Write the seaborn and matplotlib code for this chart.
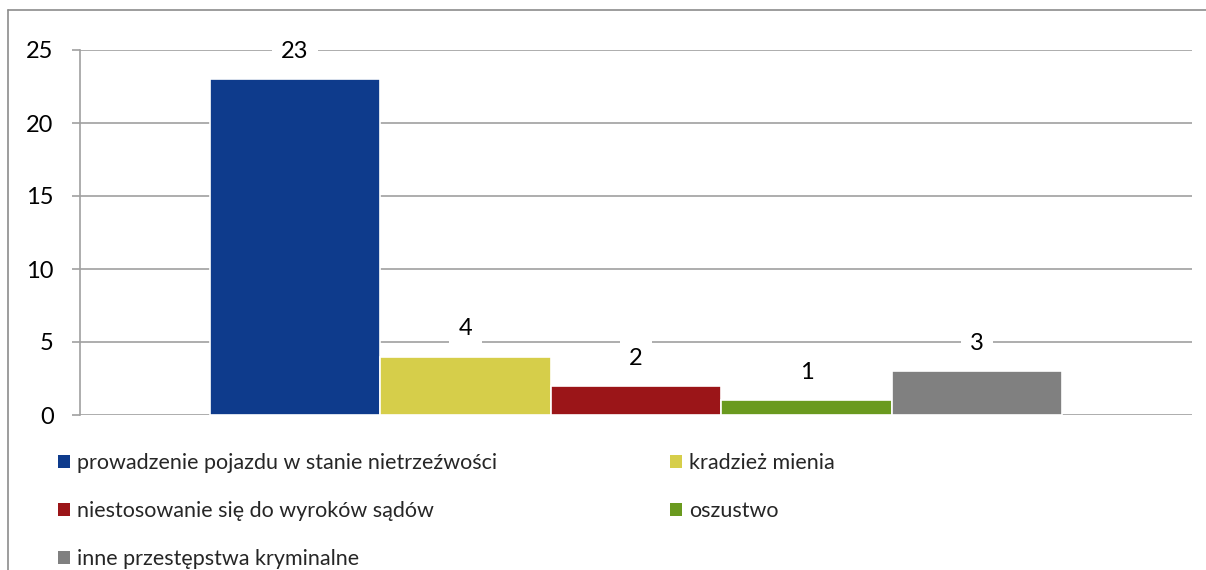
import matplotlib
matplotlib.use("Agg")
import matplotlib.pyplot as plt
import seaborn as sns
import pandas as pd
from matplotlib.patches import Patch
from matplotlib.lines import Line2D

categories = [
    "prowadzenie pojazdu w stanie nietrzeźwości",
    "kradzież mienia",
    "niestosowanie się do wyroków sądów",
    "oszustwo",
    "inne przestępstwa kryminalne",
]
values = [23, 4, 2, 1, 3]
colors = ["#0E3B8C", "#D6CE4A", "#9B1518", "#6A9A1F", "#808080"]
yticks = [0, 5, 10, 15, 20, 25]

sns.set_style("white")
plt.rcParams["font.family"] = ["Lato", "DejaVu Sans"]

df = pd.DataFrame({"cat": categories, "val": values})

fig = plt.figure(figsize=(12.06, 5.70), dpi=100)
ax = fig.add_axes([80 / 1206, 1 - 415 / 570, (1192 - 80) / 1206, (415 - 50) / 570])

sns.barplot(data=df, x="cat", y="val", hue="cat", palette=colors, width=1.0,
            saturation=1, dodge=False, edgecolor="white", linewidth=1.2,
            legend=False, ax=ax, zorder=3)

ax.set_ylim(0, 25)
ax.set_yticks(yticks)
ax.set_yticklabels([str(t) for t in yticks], fontsize=17)
ax.set_xlim(-1.26, 5.26)
ax.set_xticks([])
ax.set_xlabel("")
ax.set_ylabel("")
ax.yaxis.grid(True, color="#A0A0A0", linewidth=1.2, zorder=0)
ax.set_axisbelow(True)
for s in ["top", "right", "bottom"]:
    ax.spines[s].set_visible(False)
ax.spines["left"].set_color("#A0A0A0")
ax.spines["left"].set_linewidth(1.2)
ax.tick_params(axis="y", which="both", left=True, length=6, width=1.2,
               color="#A0A0A0", pad=13, labelcolor="black")

for i, v in enumerate(values):
    ax.annotate(str(v), xy=(i, v), xytext=(0, 20), textcoords="offset points",
                ha="center", va="center", fontsize=17, color="black",
                bbox=dict(boxstyle="square,pad=0.4", facecolor="white",
                          edgecolor="none"), zorder=5)

order = [0, 2, 4, 1, 3]
handles = [Patch(facecolor=colors[i], edgecolor="none") for i in order]
labels = [categories[i] for i in order]
leg = fig.legend(handles, labels, ncol=2, loc="upper left",
                 bbox_to_anchor=(58 / 1206, 1 - 453 / 570),
                 frameon=False, fontsize=15.5, handlelength=0.56,
                 handleheight=0.56, handletextpad=0.33, labelspacing=1.3,
                 columnspacing=8.0, borderpad=0, borderaxespad=0)

# figure border (top and left visible)
fig.add_artist(Line2D([8 / 1206, 1.0], [1 - 10 / 570, 1 - 10 / 570],
                      transform=fig.transFigure, color="#8C8C8C", linewidth=1.2))
fig.add_artist(Line2D([8 / 1206, 8 / 1206], [0.0, 1 - 10 / 570],
                      transform=fig.transFigure, color="#8C8C8C", linewidth=1.2))

fig.savefig("out.png", dpi=100, facecolor="white")
